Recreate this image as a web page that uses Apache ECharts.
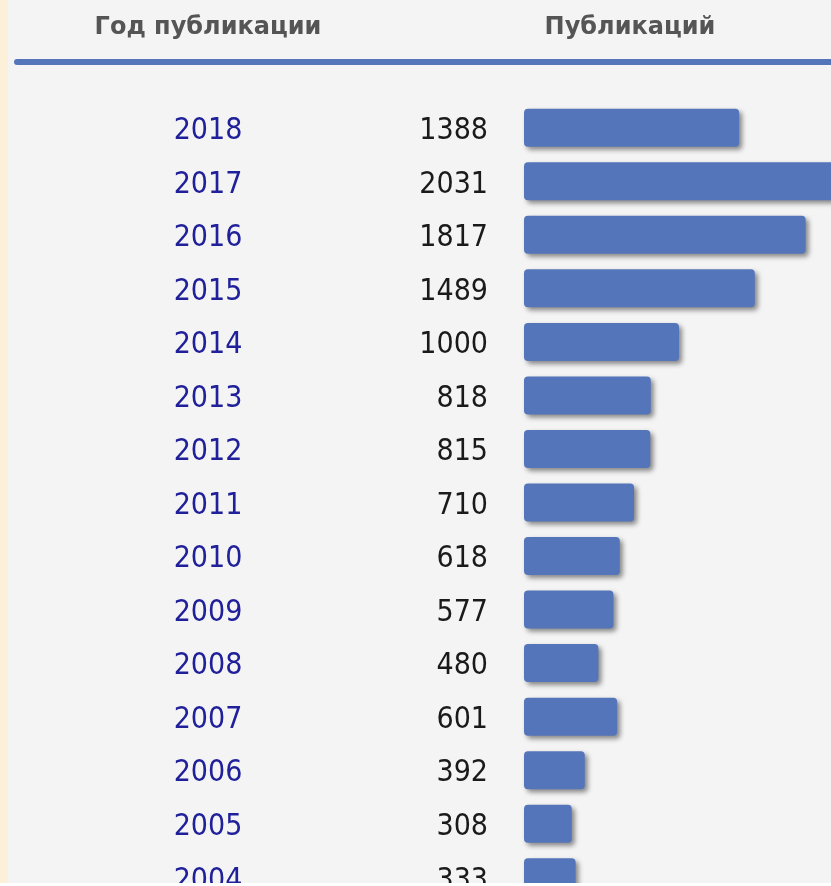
<!DOCTYPE html>
<html>
<head>
<meta charset="utf-8">
<script src="https://cdn.jsdelivr.net/npm/echarts@6/dist/echarts.min.js"></script>
<style>
  html, body { margin: 0; padding: 0; background: #ffffff; }
  #chart { position: absolute; left: 0; top: 0; width: 831px; height: 883px; }
</style>
</head>
<body>
<div id="chart"></div>
<script>
  // годы и число публикаций (сверху вниз)
  const years = ['2018', '2017', '2016', '2015', '2014', '2013', '2012', '2011', '2010', '2009', '2008', '2007', '2006', '2005', '2004']
  const counts = [1388, 2031, 1817, 1489, 1000, 818, 815, 710, 618, 577, 480, 601, 392, 308, 333]
  const headers = ['Год публикации', 'Публикаций']

  const barColor = '#5575bb'
  const numFont = '"DejaVu Sans Condensed", "DejaVu Sans", sans-serif'

  const chart = echarts.init(document.getElementById('chart'))
  chart.setOption({
    backgroundColor: '#f4f4f4',
    animation: false,
    graphic: [
      { type: 'rect', left: 0, top: 0, shape: { width: 8, height: 883 }, style: { fill: '#fcf0d8' } },
      {
        type: 'line',
        shape: { x1: 17, y1: 62, x2: 840, y2: 62 },
        style: { stroke: barColor, lineWidth: 6, lineCap: 'round' },
      },
      {
        type: 'text', x: 208, y: 28,
        style: {
          text: headers[0], align: 'center', verticalAlign: 'middle',
          fill: '#555555', font: 'bold 24px "DejaVu Sans", sans-serif',
        },
      },
      {
        type: 'text', x: 630, y: 28,
        style: {
          text: headers[1], align: 'center', verticalAlign: 'middle',
          fill: '#555555', font: 'bold 24px "DejaVu Sans", sans-serif',
        },
      },
    ],
    grid: { left: 524, top: 101, width: 310, height: 803, outerBoundsMode: 'none', containLabel: false },
    xAxis: {
      type: 'value',
      min: 0,
      max: 2000,
      show: false,
    },
    yAxis: {
      type: 'category',
      inverse: true,
      data: years,
      axisLine: { show: false },
      axisTick: { show: false },
      splitLine: { show: false },
      axisLabel: {
        margin: 36,
        formatter: (val, idx) => '{y|' + val + '}{n|' + counts[idx] + '}',
        rich: {
          y: { width: 360, align: 'center', color: '#20209a', fontSize: 30, fontFamily: numFont, padding: [7, 0, 0, 0] },
          n: { width: 100, align: 'right', color: '#1a1a1a', fontSize: 30, fontFamily: numFont, padding: [7, 0, 0, 0] },
        },
      },
    },
    series: [
      {
        type: 'bar',
        data: counts,
        barWidth: 38,
        itemStyle: {
          color: barColor,
          borderRadius: 4,
          shadowColor: 'rgba(0,0,0,0.45)',
          shadowBlur: 5,
          shadowOffsetX: 3,
          shadowOffsetY: 3,
        },
      },
    ],
  })
</script>
</body>
</html>
